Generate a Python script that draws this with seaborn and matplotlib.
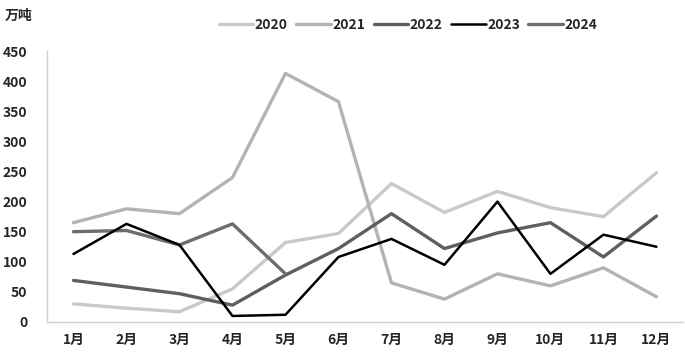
import numpy as np
import pandas as pd
import matplotlib
matplotlib.use("Agg")
import matplotlib.pyplot as plt
import seaborn as sns

months = ["1月", "2月", "3月", "4月", "5月", "6月", "7月", "8月", "9月", "10月", "11月", "12月"]
years = ["2020", "2021", "2022", "2023", "2024"]
v2020 = [30, 23, 17, 55, 132, 147, 230, 182, 217, 190, 175, 248]
v2021 = [165, 188, 180, 240, 413, 366, 65, 38, 80, 60, 90, 42]
v2022 = [69, 58, 47, 28, 78, 122, 180, 122, 148, 165, 108, 176]
v2023 = [113, 163, 128, 10, 12, 108, 138, 95, 200, 80, 145, 125]
v2024 = [150, 152, 128, 163, 80, np.nan, np.nan, np.nan, np.nan, np.nan, np.nan, np.nan]
colors = ["#c9c9c9", "#b3b3b3", "#5f5f5f", "#000000", "#6d6d6d"]
widths = [2.4, 2.4, 2.4, 1.8, 2.4]

rows = []
for y, vals in zip(years, [v2020, v2021, v2022, v2023, v2024]):
    for i, v in enumerate(vals):
        rows.append({"year": y, "pos": i, "value": v})
df = pd.DataFrame(rows).dropna()

sns.set_style("white")
plt.rcParams["font.family"] = ["Noto Sans CJK SC", "DejaVu Sans"]

fig = plt.figure(figsize=(6.85, 3.55), dpi=100)
ax = fig.add_axes([0.0686, 0.093, 0.9284, 0.763])

for y, c, w in zip(years, colors, widths):
    sns.lineplot(data=df[df.year == y], x="pos", y="value", color=c,
                 linewidth=w, ax=ax, label=y, sort=False,
                 zorder=3 if y == "2023" else 2)

ax.set_xlim(-0.5, 11.5)
ax.set_ylim(0, 450)
ax.set_xticks(range(12))
ax.set_xticklabels(months, fontsize=10, fontweight="bold")
ax.set_yticks(range(0, 451, 50))
ax.set_yticklabels([str(t) for t in range(0, 451, 50)], fontsize=10, fontweight="bold")
ax.set_xlabel("")
ax.set_ylabel("")
ax.tick_params(axis="x", length=0, pad=8)
ax.tick_params(axis="y", length=0, pad=14)
for s in ["top", "right"]:
    ax.spines[s].set_visible(False)
for s in ["left", "bottom"]:
    ax.spines[s].set_color("#d0d0d0")
    ax.spines[s].set_linewidth(1.0)

handles, labels = ax.get_legend_handles_labels()
ax.get_legend().remove()
fig.legend(handles, labels, loc="center", bbox_to_anchor=(408 / 685, 1 - 25 / 355),
           ncol=5, frameon=False, handlelength=2.5, handletextpad=0.1,
           columnspacing=0.6, prop={"size": 10, "weight": "bold"})

fig.text(5 / 685, 1 - 16 / 355, "万吨", fontsize=10, fontweight="bold", va="center", ha="left")

fig.savefig("out.png", dpi=100)
